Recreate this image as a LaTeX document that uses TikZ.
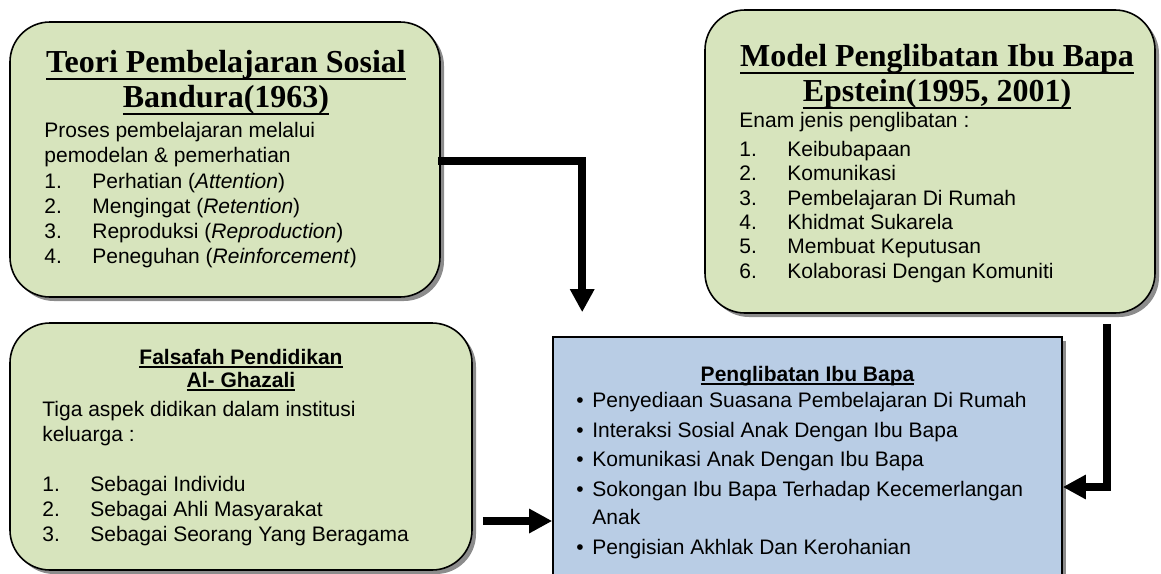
\documentclass[tikz,border=0pt]{standalone}
\usepackage{fontspec}
\setmainfont{Liberation Sans}
\newfontfamily\serifbold{Liberation Serif}
\usetikzlibrary{arrows.meta, shadows, positioning}

% underline a fixed distance below the baseline: [thickness]{gap}{text}
\newcommand{\undl}[3][2pt]{\setbox0=\hbox{#3}\rlap{\vrule width \wd0 height -#2 depth \dimexpr #2+#1\relax}\box0}
\newcommand{\itm}[1]{\makebox[48pt][l]{#1}}
\newcommand{\blt}{\makebox[16pt][l]{\textbullet}}

\begin{document}
\begin{tikzpicture}[x=1pt, y=-1pt]
        \path[use as bounding box] (0,0) rectangle (1161,573);
        \clip (0,0) rectangle (1161,573);
        \definecolor{mypalegreen}{RGB}{215,228,189}
        \definecolor{mypaleblue}{RGB}{185,205,229}
        \tikzset{
          greenbox/.style={draw, rectangle, rounded corners=40pt, line width=1.6pt, fill=mypalegreen,
            drop shadow={shadow xshift=4pt, shadow yshift=-4pt, fill=black!45, opacity=1}},
          bluebox/.style={draw, rectangle, line width=1.6pt, fill=mypaleblue,
            drop shadow={shadow xshift=4pt, shadow yshift=-4pt, fill=black!45, opacity=1}},
          bigtitle/.style={inner sep=0pt, anchor=base, font=\serifbold\bfseries\fontsize{32}{35}\selectfont},
          smalltitle/.style={inner sep=0pt, anchor=base, font=\bfseries\fontsize{21}{23}\selectfont},
          body/.style={inner sep=0pt, anchor=base west, font=\fontsize{21}{25}\selectfont},
          arr/.style={-{Triangle[length=23pt, width=23pt]}, line width=7.5pt}
        }

        % Bandura
        \node[greenbox, minimum width=430pt, minimum height=275pt] at (225,159.5) (teori) {};
        \node[bigtitle] at ([xshift=1pt, yshift=-51pt] teori.north) (teori1) {\undl[2.5pt]{5.5pt}{Teori Pembelajaran Sosial}};
        \node[bigtitle] at ([yshift=-35pt] teori1.base) (teori2) {\undl[2.5pt]{5.5pt}{Bandura(1963)}};
        \node[body] at ([xshift=35pt, yshift=-116pt] teori.north west) (tb1) {Proses pembelajaran melalui};
        \node[body] at ([yshift=-25pt] tb1.base west) (tb2) {pemodelan \& pemerhatian};
        \node[body] at ([yshift=-26pt] tb2.base west) (tb3) {\itm{1.}Perhatian (\textit{Attention})};
        \node[body] at ([yshift=-25pt] tb3.base west) (tb4) {\itm{2.}Mengingat (\textit{Retention})};
        \node[body] at ([yshift=-25pt] tb4.base west) (tb5) {\itm{3.}Reproduksi (\textit{Reproduction})};
        \node[body] at ([yshift=-25pt] tb5.base west) (tb6) {\itm{4.}Peneguhan (\textit{Reinforcement})};

        % Epstein
        \node[greenbox, minimum width=450pt, minimum height=303pt] at (930,161.5) (epstein) {};
        \node[bigtitle] at ([xshift=7pt, yshift=-57pt] epstein.north) (epstein1) {\undl[2.5pt]{5.5pt}{Model Penglibatan Ibu Bapa}};
        \node[bigtitle] at ([yshift=-35pt] epstein1.base) (epstein2) {\undl[2.5pt]{5.5pt}{Epstein(1995, 2001)}};
        \node[body] at ([xshift=35pt, yshift=-118pt] epstein.north west) (eb0) {Enam jenis penglibatan :};
        \node[body] at ([yshift=-29pt] eb0.base west) (eb1) {\itm{1.}Keibubapaan};
        \node[body] at ([yshift=-24.4pt] eb1.base west) (eb2) {\itm{2.}Komunikasi};
        \node[body] at ([yshift=-24.4pt] eb2.base west) (eb3) {\itm{3.}Pembelajaran Di Rumah};
        \node[body] at ([yshift=-24.4pt] eb3.base west) (eb4) {\itm{4.}Khidmat Sukarela};
        \node[body] at ([yshift=-24.4pt] eb4.base west) (eb5) {\itm{5.}Membuat Keputusan};
        \node[body] at ([yshift=-24.4pt] eb5.base west) (eb6) {\itm{6.}Kolaborasi Dengan Komuniti};

        % Al-Ghazali
        \node[greenbox, minimum width=462pt, minimum height=247pt] at (241,446.5) (falsafah) {};
        \node[smalltitle] at ([yshift=-42pt] falsafah.north) (falsafah1) {\undl{2pt}{Falsafah Pendidikan}};
        \node[smalltitle] at ([yshift=-23pt] falsafah1.base) (falsafah2) {\undl{2pt}{Al- Ghazali}};
        \node[body] at ([xshift=33pt, yshift=-94pt] falsafah.north west) (fb1) {Tiga aspek didikan dalam institusi};
        \node[body] at ([yshift=-25pt] fb1.base west) (fb2) {keluarga :};
        \node[body] at ([yshift=-50pt] fb2.base west) (fb3) {\itm{1.}Sebagai Individu};
        \node[body] at ([yshift=-25pt] fb3.base west) (fb4) {\itm{2.}Sebagai Ahli Masyarakat};
        \node[body] at ([yshift=-25pt] fb4.base west) (fb5) {\itm{3.}Sebagai Seorang Yang Beragama};

        % Penglibatan Ibu Bapa
        \node[bluebox, minimum width=509pt, minimum height=300pt] at (807.5,487) (pib) {};
        \node[smalltitle] at ([yshift=-45pt] pib.north) (pib0) {\undl{1.5pt}{Penglibatan Ibu Bapa}};
        \node[body] at ([xshift=24pt, yshift=-71pt] pib.north west) (pb1) {\blt Penyediaan Suasana Pembelajaran Di Rumah};
        \node[body] at ([yshift=-30pt] pb1.base west) (pb2) {\blt Interaksi Sosial Anak Dengan Ibu Bapa};
        \node[body] at ([yshift=-29pt] pb2.base west) (pb3) {\blt Komunikasi Anak Dengan Ibu Bapa};
        \node[body] at ([yshift=-30pt] pb3.base west) (pb4) {\blt Sokongan Ibu Bapa Terhadap Kecemerlangan};
        \node[body] at ([yshift=-28pt] pb4.base west) (pb5) {\hspace*{16pt}Anak};
        \node[body] at ([yshift=-30pt] pb5.base west) (pb6) {\blt Pengisian Akhlak Dan Kerohanian};

        \draw[arr] ([xshift=-3pt, yshift=-1.5pt] teori.east) -| ([xshift=30pt, yshift=24pt] pib.north west);
        \draw[arr] ([xshift=-49pt, yshift=-10pt] epstein.south east) |- (pib.east);
        \draw[arr] ([xshift=10pt, yshift=-74.5pt] falsafah.east) coordinate (a3) -- (a3 -| pib.west);
\end{tikzpicture}
\end{document}
